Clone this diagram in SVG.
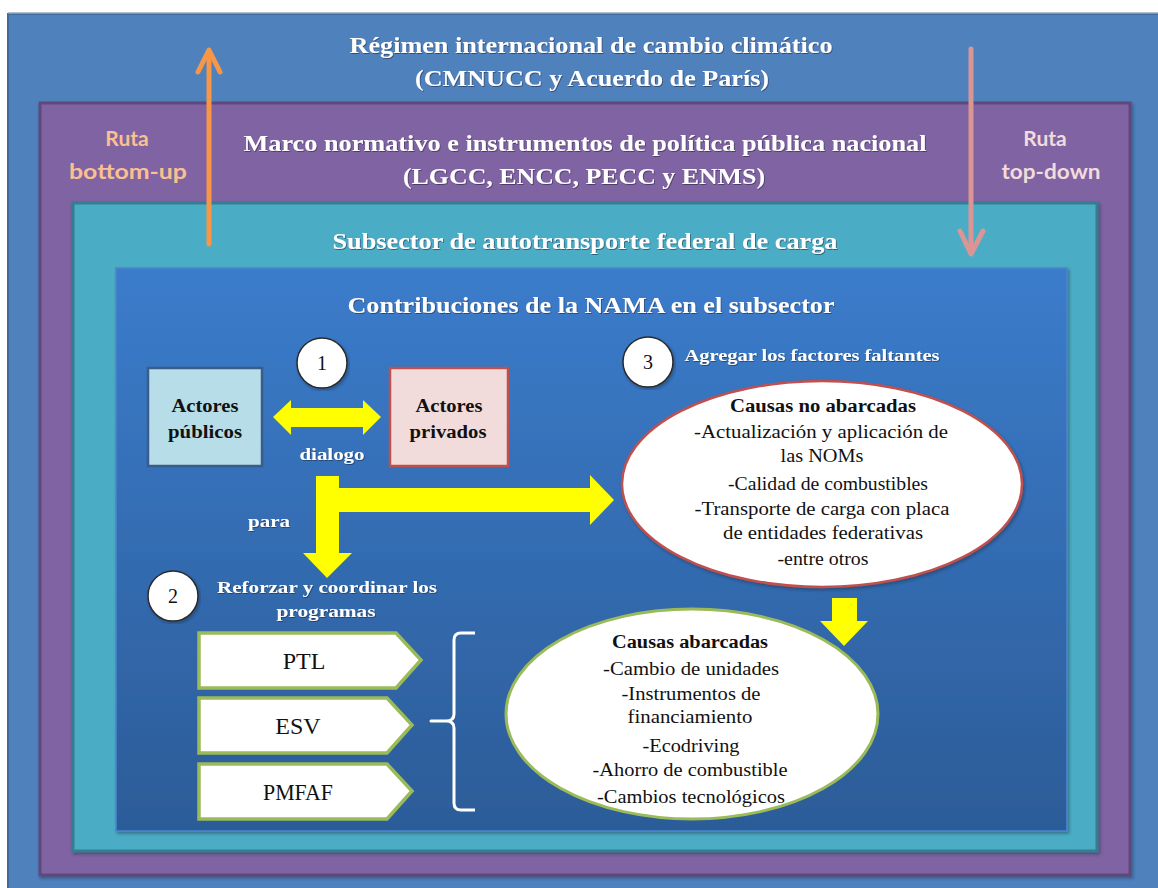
<svg xmlns="http://www.w3.org/2000/svg" width="1158" height="888" viewBox="0 0 1158 888">
  <defs>
    <linearGradient id="gInner" x1="0" y1="0" x2="0" y2="1">
      <stop offset="0" stop-color="#3B7CCB"/>
      <stop offset="1" stop-color="#2C5C98"/>
    </linearGradient>
    <filter id="shadow" x="-5%" y="-5%" width="110%" height="110%">
      <feDropShadow dx="1.5" dy="2" stdDeviation="1.5" flood-color="#1d2b40" flood-opacity="0.45"/>
    </filter>
    <filter id="tshadow" x="-5%" y="-20%" width="110%" height="140%">
      <feDropShadow dx="0.8" dy="1" stdDeviation="0.6" flood-color="#1a2436" flood-opacity="0.55"/>
    </filter>
    <style>
      .title { font-family: "Liberation Serif", serif; font-weight: bold; font-size: 24px; fill: #ffffff; text-anchor: middle; }
      .ruta { font-family: Lato, "Open Sans", sans-serif; font-weight: bold; font-size: 21px; text-anchor: middle; }
      .wlabel { font-family: "Liberation Serif", serif; font-weight: bold; font-size: 17px; fill: #ffffff; text-anchor: middle; }
      .blabel { font-family: "Liberation Serif", serif; font-weight: bold; font-size: 18px; fill: #111111; text-anchor: middle; }
      .body { font-family: "Liberation Serif", serif; font-size: 18px; fill: #111111; text-anchor: middle; }
      .prog { font-family: "Liberation Serif", serif; font-size: 24px; fill: #111111; text-anchor: middle; }
      .num { font-family: "Liberation Serif", serif; font-size: 20px; fill: #111111; text-anchor: middle; }
      .badge { fill: #ffffff; stroke: #2b2b2b; stroke-width: 1.5; }
      .pent { fill: #ffffff; stroke: #9BBB59; stroke-width: 3.5; }
      .yarrow { fill: #FFFF00; }
    </style>
  </defs>

  <!-- page background -->
  <rect x="0" y="0" width="1158" height="888" fill="#ffffff"/>

  <!-- nested frames -->
  <g id="frame-international">
    <rect x="8" y="14" width="1160" height="884" fill="#4F81BD" stroke="#3F6A9E" stroke-width="2"/>
    <line x1="8" y1="13" x2="1158" y2="13" stroke="#9aa8bb" stroke-width="1.5"/>
    <text class="title" x="591" y="53" textLength="483" lengthAdjust="spacingAndGlyphs" filter="url(#tshadow)">Régimen internacional de cambio climático</text>
    <text class="title" x="592" y="86" textLength="354" lengthAdjust="spacingAndGlyphs" filter="url(#tshadow)">(CMNUCC y Acuerdo de París)</text>
  </g>

  <g id="frame-national">
    <rect x="40" y="103" width="1090" height="772" fill="#8064A2" stroke="#5E4A7C" stroke-width="3" filter="url(#shadow)"/>
    <text class="title" x="585" y="151" textLength="683" lengthAdjust="spacingAndGlyphs" filter="url(#tshadow)">Marco normativo e instrumentos de política pública nacional</text>
    <text class="title" x="584" y="184" textLength="362" lengthAdjust="spacingAndGlyphs" filter="url(#tshadow)">(LGCC, ENCC, PECC y ENMS)</text>
    <text class="ruta" x="127" y="146" fill="#FAC090">Ruta</text>
    <text class="ruta" x="128" y="179" fill="#FAC090" textLength="118" lengthAdjust="spacingAndGlyphs">bottom-up</text>
    <text class="ruta" x="1045" y="146" fill="#F2DCDB">Ruta</text>
    <text class="ruta" x="1051" y="179" fill="#F2DCDB" textLength="99" lengthAdjust="spacingAndGlyphs">top-down</text>
  </g>

  <g id="frame-subsector">
    <rect x="73" y="203" width="1024" height="648" fill="#4BACC6" stroke="#357D91" stroke-width="3" filter="url(#shadow)"/>
    <text class="title" x="585" y="249" textLength="505" lengthAdjust="spacingAndGlyphs" filter="url(#tshadow)">Subsector de autotransporte federal de carga</text>
  </g>

  <g id="frame-nama">
    <rect x="116" y="268" width="951" height="563" fill="url(#gInner)" stroke="#4A86CF" stroke-width="1.5" filter="url(#shadow)"/>
    <text class="title" x="591" y="313" textLength="487" lengthAdjust="spacingAndGlyphs" filter="url(#tshadow)">Contribuciones de la NAMA en el subsector</text>
  </g>

  <!-- route arrows and flow arrows -->
  <g id="connectors">
    <!-- bottom-up route -->
    <g stroke="#F79646" stroke-width="5" fill="none" stroke-linecap="round" stroke-linejoin="round">
      <line x1="209" y1="244" x2="209" y2="52"/>
      <polyline points="198,72 209,50 220,72"/>
    </g>
    <!-- top-down route -->
    <g stroke="#D99694" stroke-width="5" fill="none" stroke-linecap="round" stroke-linejoin="round">
      <line x1="971" y1="49" x2="971" y2="252"/>
      <polyline points="960,231 971,254 983,231"/>
    </g>
    <!-- dialogue between actors -->
    <polygon id="arrow-dialogo" class="yarrow" points="273,417 291,400 291,408 363,408 363,400 381,417 363,435 363,427 291,427 291,435"/>
    <!-- split arrow: down to programmes, right to missing factors -->
    <polygon id="arrow-para" class="yarrow" points="316,476 339,476 339,488 590,488 590,475 614,500 590,525 590,512 339,512 339,553 352,553 327,578 303,553 316,553"/>
    <!-- from uncovered causes to covered causes -->
    <polygon id="arrow-causas" class="yarrow" points="832,598 857,598 857,621 868,621 844,646 820,621 832,621"/>
    <!-- brace grouping the programmes -->
    <path id="brace" d="M475,633 L461,633 Q454,633 454,640 L454,714 Q454,721 446,721 L431,721 L446,721 Q454,721 454,728 L454,803 Q454,810 461,810 L475,810" fill="none" stroke="#ffffff" stroke-width="3" stroke-linejoin="round"/>
  </g>

  <!-- step 1 -->
  <g id="step-1">
    <circle class="badge" cx="322" cy="363" r="25" filter="url(#shadow)"/>
    <text class="num" x="322" y="370">1</text>
  </g>

  <g id="actores-publicos">
    <rect x="148" y="368" width="114" height="98" fill="#B7DDE8" stroke="#385D8A" stroke-width="2.5"/>
    <text class="blabel" x="205" y="412" textLength="67" lengthAdjust="spacingAndGlyphs">Actores</text>
    <text class="blabel" x="205" y="438" textLength="74" lengthAdjust="spacingAndGlyphs">públicos</text>
  </g>

  <g id="actores-privados">
    <rect x="390" y="368" width="118" height="98" fill="#F2DCDB" stroke="#C0504D" stroke-width="2.5"/>
    <text class="blabel" x="449" y="412" textLength="67" lengthAdjust="spacingAndGlyphs">Actores</text>
    <text class="blabel" x="448" y="438" textLength="77" lengthAdjust="spacingAndGlyphs">privados</text>
  </g>

  <g id="labels-flow">
    <text class="wlabel" x="332" y="460" textLength="65" lengthAdjust="spacingAndGlyphs" filter="url(#tshadow)">dialogo</text>
    <text class="wlabel" x="269" y="527" textLength="42" lengthAdjust="spacingAndGlyphs" filter="url(#tshadow)">para</text>
  </g>

  <!-- step 2 -->
  <g id="step-2">
    <circle class="badge" cx="173" cy="596" r="25" filter="url(#shadow)"/>
    <text class="num" x="173" y="603">2</text>
    <text class="wlabel" x="327" y="593" textLength="220" lengthAdjust="spacingAndGlyphs" filter="url(#tshadow)">Reforzar y coordinar  los</text>
    <text class="wlabel" x="326" y="617" textLength="99" lengthAdjust="spacingAndGlyphs" filter="url(#tshadow)">programas</text>
  </g>

  <g id="prog-ptl">
    <polygon class="pent" points="199,633 396,633 421,660 396,688 199,688"/>
    <text class="prog" x="304" y="669">PTL</text>
  </g>
  <g id="prog-esv">
    <polygon class="pent" points="199,698 387,698 412,725 387,753 199,753"/>
    <text class="prog" x="298" y="734">ESV</text>
  </g>
  <g id="prog-pmfaf">
    <polygon class="pent" points="199,764 387,764 412,791 387,819 199,819"/>
    <text class="prog" x="298" y="800" textLength="70" lengthAdjust="spacingAndGlyphs">PMFAF</text>
  </g>

  <!-- step 3 -->
  <g id="step-3">
    <circle class="badge" cx="648" cy="362" r="25" filter="url(#shadow)"/>
    <text class="num" x="648" y="369">3</text>
    <text class="wlabel" x="812" y="361" textLength="255" lengthAdjust="spacingAndGlyphs" filter="url(#tshadow)">Agregar los factores faltantes</text>
  </g>

  <g id="causas-no-abarcadas">
    <ellipse cx="822" cy="484" rx="200" ry="103" fill="#ffffff" stroke="#C0504D" stroke-width="2.5" filter="url(#shadow)"/>
    <text class="blabel" x="823" y="412" textLength="186" lengthAdjust="spacingAndGlyphs">Causas no  abarcadas</text>
    <text class="body" x="821" y="438" textLength="254" lengthAdjust="spacingAndGlyphs">-Actualización y aplicación de</text>
    <text class="body" x="822" y="462" textLength="83" lengthAdjust="spacingAndGlyphs">las NOMs</text>
    <text class="body" x="828" y="490" textLength="200" lengthAdjust="spacingAndGlyphs">-Calidad de combustibles</text>
    <text class="body" x="822" y="515" textLength="255" lengthAdjust="spacingAndGlyphs">-Transporte de carga con placa</text>
    <text class="body" x="823" y="539" textLength="200" lengthAdjust="spacingAndGlyphs">de entidades federativas</text>
    <text class="body" x="823" y="565" textLength="91" lengthAdjust="spacingAndGlyphs">-entre otros</text>
  </g>

  <g id="causas-abarcadas">
    <ellipse cx="692" cy="714" rx="186" ry="105" fill="#ffffff" stroke="#9BBB59" stroke-width="3"/>
    <text class="blabel" x="690" y="648" textLength="156" lengthAdjust="spacingAndGlyphs">Causas abarcadas</text>
    <text class="body" x="691" y="675" textLength="176" lengthAdjust="spacingAndGlyphs">-Cambio de unidades</text>
    <text class="body" x="691" y="700" textLength="139" lengthAdjust="spacingAndGlyphs">-Instrumentos de</text>
    <text class="body" x="690" y="723" textLength="125" lengthAdjust="spacingAndGlyphs">financiamiento</text>
    <text class="body" x="691" y="752" textLength="97" lengthAdjust="spacingAndGlyphs">-Ecodriving</text>
    <text class="body" x="690" y="776" textLength="195" lengthAdjust="spacingAndGlyphs">-Ahorro de combustible</text>
    <text class="body" x="691" y="803" textLength="188" lengthAdjust="spacingAndGlyphs">-Cambios tecnológicos</text>
  </g>
</svg>
